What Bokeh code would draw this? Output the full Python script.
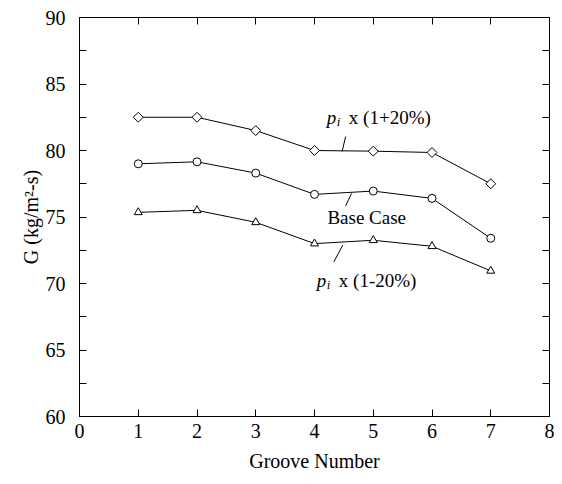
import math
from bokeh.plotting import figure
from bokeh.models import Range1d, LinearAxis, FixedTicker, Label
from bokeh.embed import file_html
from bokeh.resources import INLINE

# ---- data ----
groove = [1, 2, 3, 4, 5, 6, 7]
g_plus20 = [82.5, 82.5, 81.5, 80.0, 79.95, 79.85, 77.5]
g_base = [79.0, 79.15, 78.3, 76.7, 76.95, 76.4, 73.4]
g_minus20 = [75.35, 75.5, 74.6, 73.0, 73.25, 72.8, 70.95]

x_ticks = [0, 1, 2, 3, 4, 5, 6, 7, 8]
y_ticks = [60, 65, 70, 75, 80, 85, 90]
y_minor = [62.5, 67.5, 72.5, 77.5, 82.5, 87.5]

# annotation anchors (data units) and leader lines
ann_plus = (4.21, 82.45)
ann_base = (4.22, 74.95)
ann_minus = (4.04, 70.25)
lead_x0 = [4.53, 4.63, 4.48]
lead_y0 = [81.05, 76.77, 72.88]
lead_x1 = [4.47, 4.53, 4.33]
lead_y1 = [79.92, 75.84, 71.63]

FONT = "Liberation Serif"

p = figure(width=554, height=476, x_range=Range1d(0, 8), y_range=Range1d(60, 90),
           output_backend="svg", toolbar_location=None,
           min_border_left=79, min_border_right=5, min_border_top=17, min_border_bottom=60)
p.background_fill_color = "white"
p.border_fill_color = "white"
p.outline_line_color = "black"
p.outline_line_width = 1
p.xgrid.visible = False
p.ygrid.visible = False

def style_axis(ax, ticker, show_labels=True):
    ax.ticker = ticker
    ax.axis_line_color = "black"
    ax.major_tick_line_color = "black"
    ax.minor_tick_line_color = "black"
    ax.major_tick_in = 7
    ax.major_tick_out = 0
    ax.minor_tick_in = 7
    ax.minor_tick_out = 0
    ax.major_label_text_font = FONT
    ax.major_label_text_color = "black"
    ax.major_label_text_font_size = "20px"
    ax.axis_label_text_font = FONT
    ax.axis_label_text_font_style = "normal"
    ax.axis_label_text_font_size = "20px"
    ax.axis_label_text_color = "black"
    if not show_labels:
        ax.major_label_text_font_size = "0px"
        ax.major_label_text_color = None
        ax.major_label_standoff = 0

xt = FixedTicker(ticks=x_ticks, minor_ticks=[])
yt = FixedTicker(ticks=y_ticks, minor_ticks=y_minor)

style_axis(p.xaxis[0], xt)
p.xaxis[0].axis_label = "Groove Number"
p.xaxis[0].major_label_standoff = 7
p.xaxis[0].axis_label_standoff = 9

style_axis(p.yaxis[0], yt)
p.yaxis[0].axis_label = "G (kg/m²-s)"
p.yaxis[0].major_label_standoff = 14
p.yaxis[0].axis_label_standoff = 1

top = LinearAxis()
style_axis(top, FixedTicker(ticks=x_ticks, minor_ticks=[]), show_labels=False)
p.add_layout(top, "above")
right = LinearAxis()
style_axis(right, FixedTicker(ticks=y_ticks, minor_ticks=y_minor), show_labels=False)
p.add_layout(right, "right")

# series
p.line(groove, g_plus20, line_color="black", line_width=1)
p.line(groove, g_base, line_color="black", line_width=1)
p.line(groove, g_minus20, line_color="black", line_width=1)
p.scatter(groove, g_plus20, marker="square", angle=math.pi / 4, size=7,
          fill_color="white", line_color="black", line_width=1)
p.scatter(groove, g_base, marker="circle", size=8,
          fill_color="white", line_color="black", line_width=1)
p.scatter(groove, g_minus20, marker="triangle", size=8,
          fill_color="white", line_color="black", line_width=1)

# leader lines
p.segment(x0=lead_x0, y0=lead_y0, x1=lead_x1, y1=lead_y1, line_color="black", line_width=1)

def label(xy, text, xo=0, yo=0, size="19px", style="normal"):
    p.add_layout(Label(x=xy[0], y=xy[1], text=text, x_offset=xo, y_offset=yo,
                       text_font=FONT, text_font_size=size, text_font_style=style,
                       text_color="black", text_baseline="middle", text_align="left"))

label(ann_plus, "p", style="italic")
label(ann_plus, "i", xo=10, yo=-4, size="13px", style="italic")
label(ann_plus, "x (1+20%)", xo=22)
label(ann_base, "Base Case")
label(ann_minus, "p", style="italic")
label(ann_minus, "i", xo=10, yo=-4, size="13px", style="italic")
label(ann_minus, "x (1-20%)", xo=22)

open("out.html", "w").write(file_html(p, INLINE))
